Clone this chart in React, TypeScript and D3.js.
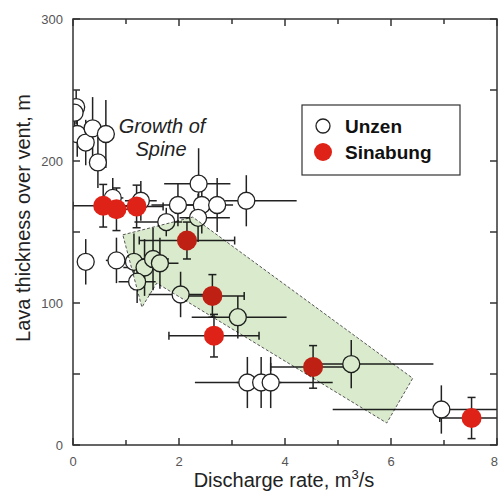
import React, { useEffect, useRef } from "react"
import * as d3 from "d3"

// Unzen (open circles): value, then error (minus, plus)
const unzenX = [0.06, 0.03, 0.08, 0.24, 0.37, 0.62, 0.47, 0.75, 1.28, 1.98, 2.37, 2.43, 2.72, 3.27, 1.76, 2.36, 0.24, 0.82, 1.15, 1.35, 1.51, 1.64, 1.21, 2.03, 3.11, 5.25, 3.29, 3.55, 3.73, 6.95]
const unzenY = [238, 234, 219, 213, 223, 219, 199, 174, 172, 169, 184, 169, 169, 172, 157, 160, 129, 130, 129, 125, 131, 128, 115, 106, 90, 57, 44, 44, 44, 25]
const unzenXErr = [[0.05, 0.05], [0.03, 0.05], [0.05, 0.05], [0.05, 0.05], [0.05, 0.05], [0.05, 0.05], [0.05, 0.05], [0.2, 0.2], [0.3, 0.3], [0.5, 0.5], [0.65, 0.6], [0.35, 0.35], [0.3, 0.3], [0.4, 0.95], [0.6, 0.3], [0.35, 0.6], [0.05, 0.05], [0.2, 0.2], [0.3, 0.3], [0.4, 0.4], [0.3, 0.3], [0.35, 0.35], [0.35, 0.35], [0.6, 0.6], [0.87, 0.92], [0.75, 1.55], [0.2, 0.2], [1.25, 1.35], [0.2, 0.2], [2.05, 1.5]]
const unzenYErr = [12, 10, 16, 16, 22, 24, 18, 14, 14, 15, 25, 20, 19, 18, 10, 17, 16, 16, 20, 20, 22, 18, 15, 16, 15, 17, 18, 18, 18, 17]

// Sinabung (red dots)
const sinaX = [0.57, 0.82, 1.2, 2.15, 2.63, 2.66, 4.53, 7.52]
const sinaY = [168.5, 166, 168, 144, 105, 77, 55, 19]
const sinaXErr = [[0.57, 0.5], [0.3, 0.3], [0.5, 0.5], [0.9, 0.9], [0.6, 0.6], [0.85, 0.85], [0.8, 0.8], [0.6, 0.8]]
const sinaYErr = [15, 15, 15, 13, 15, 15, 15, 14.5]

// green band corners (data units)
const bandX = [0.94, 2.26, 6.41, 5.92, 1.58, 1.3]
const bandY = [148, 160.5, 47, 15.5, 114, 97]

const xTicks = [0, 2, 4, 6, 8]
const xMinor = [1, 3, 5, 7]
const yTicks = [0, 100, 200, 300]
const yMinor = [50, 150, 250]

const W = 499
const H = 491
const left = 73, right = 497, top = 19, bottom = 445

export default function App() {
    const ref = useRef(null)

    useEffect(() => {
        const svg = d3.select(ref.current)
        svg.selectAll("*").remove()

        const x = d3.scaleLinear().domain([0, 8]).range([left, right])
        const y = d3.scaleLinear().domain([0, 300]).range([bottom, top])
        const font = "Liberation Sans, Arial, sans-serif"

        svg.append("defs").append("clipPath").attr("id", "plotclip")
            .append("rect").attr("x", left).attr("y", top)
            .attr("width", right - left).attr("height", bottom - top)

        const plot = svg.append("g").attr("clip-path", "url(#plotclip)")

        // error bars
        const drawErr = (xs, ys, xe, ye, cap) => {
            const g = plot.append("g").attr("stroke", "#222").attr("stroke-width", 1.5)
            xs.forEach((xv, i) => {
                const yv = ys[i]
                g.append("line").attr("x1", x(xv - xe[i][0])).attr("x2", x(xv + xe[i][1]))
                    .attr("y1", y(yv)).attr("y2", y(yv))
                g.append("line").attr("x1", x(xv)).attr("x2", x(xv))
                    .attr("y1", y(yv - ye[i])).attr("y2", y(yv + ye[i]))
                if (cap) {
                    [xv - xe[i][0], xv + xe[i][1]].forEach(c => {
                        g.append("line").attr("x1", x(c)).attr("x2", x(c))
                            .attr("y1", y(yv) - 4).attr("y2", y(yv) + 4)
                    })
                    ;[yv - ye[i], yv + ye[i]].forEach(c => {
                        g.append("line").attr("x1", x(xv) - 4).attr("x2", x(xv) + 4)
                            .attr("y1", y(c)).attr("y2", y(c))
                    })
                }
            })
        }
        drawErr(unzenX, unzenY, unzenXErr, unzenYErr, false)
        drawErr(sinaX, sinaY, sinaXErr, sinaYErr, true)

        plot.append("g").selectAll("circle").data(unzenX).enter().append("circle")
            .attr("cx", d => x(d)).attr("cy", (d, i) => y(unzenY[i])).attr("r", 8.5)
            .attr("fill", "white").attr("stroke", "#222").attr("stroke-width", 1.3)

        plot.append("g").selectAll("circle").data(sinaX).enter().append("circle")
            .attr("cx", d => x(d)).attr("cy", (d, i) => y(sinaY[i])).attr("r", 10)
            .attr("fill", "#df2217")

        // band on top, multiplied
        const band = d3.line().x(d => x(d[0])).y(d => y(d[1]))
        plot.append("path")
            .attr("d", band(bandX.map((d, i) => [d, bandY[i]])) + "Z")
            .attr("fill", "#d9eacd")
            .attr("stroke", "#555")
            .attr("stroke-width", 1)
            .attr("stroke-dasharray", "3,2")
            .style("mix-blend-mode", "multiply")

        // frame
        svg.append("rect").attr("x", left).attr("y", top)
            .attr("width", right - left).attr("height", bottom - top)
            .attr("fill", "none").attr("stroke", "#333").attr("stroke-width", 1.5)

        const ticks = svg.append("g").attr("stroke", "#333").attr("stroke-width", 1.5)
        const tickX = (vals, len) => vals.forEach(v => {
            ticks.append("line").attr("x1", x(v)).attr("x2", x(v)).attr("y1", bottom).attr("y2", bottom - len)
            ticks.append("line").attr("x1", x(v)).attr("x2", x(v)).attr("y1", top).attr("y2", top + len)
        })
        const tickY = (vals, len) => vals.forEach(v => {
            ticks.append("line").attr("y1", y(v)).attr("y2", y(v)).attr("x1", left).attr("x2", left + len)
            ticks.append("line").attr("y1", y(v)).attr("y2", y(v)).attr("x1", right).attr("x2", right - len)
        })
        tickX(xTicks, 7)
        tickX(xMinor, 5)
        tickY(yTicks, 7)
        tickY(yMinor, 7)

        // last label would run past the page edge, so pin its right side
        svg.append("g").selectAll("text").data(xTicks).enter().append("text")
            .attr("x", (d, i) => i === xTicks.length - 1 ? W - 1 : x(d)).attr("y", 466)
            .attr("text-anchor", (d, i) => i === xTicks.length - 1 ? "end" : "middle")
            .attr("font-family", font)
            .attr("font-size", 13).attr("fill", "#555").text(d => d)

        svg.append("g").selectAll("text").data(yTicks).enter().append("text")
            .attr("x", 63).attr("y", d => y(d) + 5)
            .attr("text-anchor", "end").attr("font-family", font)
            .attr("font-size", 13).attr("fill", "#555").text(d => d)

        // axis titles
        const xt = svg.append("text").attr("x", 284).attr("y", 487)
            .attr("text-anchor", "middle").attr("font-family", font)
            .attr("font-size", 20).attr("fill", "#222")
        xt.append("tspan").text("Discharge rate, m")
        xt.append("tspan").attr("font-size", 13).attr("dy", -8).text("3")
        xt.append("tspan").attr("dy", 8).text("/s")

        svg.append("text").attr("transform", "translate(30,218) rotate(-90)")
            .attr("text-anchor", "middle").attr("font-family", font)
            .attr("font-size", 20).attr("fill", "#222")
            .text("Lava thickness over vent, m")

        // annotation
        const ann = svg.append("text").attr("font-family", font).attr("font-size", 20)
            .attr("font-style", "italic").attr("fill", "#222").attr("text-anchor", "middle")
        ann.append("tspan").attr("x", 162).attr("y", 133).text("Growth of")
        ann.append("tspan").attr("x", 161).attr("y", 156).text("Spine")

        // legend
        const lg = svg.append("g")
        lg.append("rect").attr("x", 302).attr("y", 105).attr("width", 158).attr("height", 70)
            .attr("fill", "white").attr("stroke", "#333").attr("stroke-width", 1.2)
        lg.append("circle").attr("cx", 323).attr("cy", 126).attr("r", 7)
            .attr("fill", "white").attr("stroke", "#222").attr("stroke-width", 1.3)
        lg.append("circle").attr("cx", 323).attr("cy", 152).attr("r", 9)
            .attr("fill", "#df2217")
        lg.append("text").attr("x", 345).attr("y", 133).attr("font-family", font)
            .attr("font-size", 19).attr("font-weight", "bold").attr("fill", "#111").text("Unzen")
        lg.append("text").attr("x", 345).attr("y", 159).attr("font-family", font)
            .attr("font-size", 19).attr("font-weight", "bold").attr("fill", "#111").text("Sinabung")
    }, [])

    return (
        <svg ref={ref} width={W} height={H}
            style={{ position: "absolute", left: 0, top: 0, background: "white" }} />
    )
}
